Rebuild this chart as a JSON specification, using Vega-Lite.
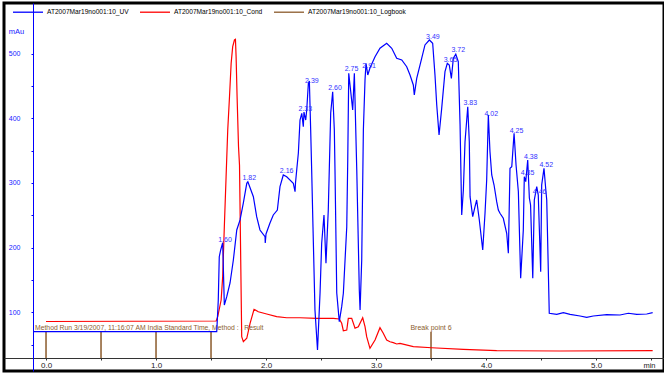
{
  "$schema": "https://vega.github.io/schema/vega-lite/v6.json",
  "width": 660,
  "height": 368,
  "autosize": {"type": "none"},
  "padding": {"left": 4, "top": 3, "right": 0, "bottom": 3},
  "background": "white",
  "view": {"stroke": "#000000", "strokeWidth": 3, "fill": "white"},
  "config": {
    "font": "Liberation Sans, Arial, sans-serif"
  },
  "datasets": {
    "uv": [
      {"t": -0.11, "v": 70}, {"t": 1.552, "v": 70}, {"t": 1.566, "v": 119}, {"t": 1.575, "v": 186}, {"t": 1.588, "v": 196.4},
      {"t": 1.606, "v": 207.7}, {"t": 1.621, "v": 111.3}, {"t": 1.643, "v": 124.1}, {"t": 1.673, "v": 145.3}, {"t": 1.703, "v": 180.9},
      {"t": 1.734, "v": 227.3}, {"t": 1.764, "v": 242.8}, {"t": 1.794, "v": 269.1}, {"t": 1.825, "v": 299.5}, {"t": 1.835, "v": 302},
      {"t": 1.885, "v": 278.8}, {"t": 1.915, "v": 247.9}, {"t": 1.945, "v": 227.3}, {"t": 1.991, "v": 216.9}, {"t": 1.993, "v": 207.2},
      {"t": 2.0, "v": 221.1}, {"t": 2.036, "v": 238.1}, {"t": 2.066, "v": 250.5}, {"t": 2.103, "v": 258.2}, {"t": 2.127, "v": 294.3},
      {"t": 2.157, "v": 312.4}, {"t": 2.188, "v": 309.7}, {"t": 2.248, "v": 299.5}, {"t": 2.264, "v": 286.5}, {"t": 2.268, "v": 300},
      {"t": 2.279, "v": 320.1}, {"t": 2.294, "v": 346.4}, {"t": 2.309, "v": 397.4}, {"t": 2.325, "v": 407.8}, {"t": 2.339, "v": 387.1},
      {"t": 2.345, "v": 409.8}, {"t": 2.361, "v": 397.4}, {"t": 2.37, "v": 412.9}, {"t": 2.385, "v": 454.2}, {"t": 2.394, "v": 457.8},
      {"t": 2.406, "v": 382.1}, {"t": 2.415, "v": 320.2}, {"t": 2.427, "v": 231.9}, {"t": 2.445, "v": 103.6}, {"t": 2.468, "v": 41.7},
      {"t": 2.491, "v": 129.4}, {"t": 2.506, "v": 206.7}, {"t": 2.527, "v": 250.5}, {"t": 2.545, "v": 175.8}, {"t": 2.566, "v": 258.2},
      {"t": 2.588, "v": 408.3}, {"t": 2.606, "v": 441.2}, {"t": 2.621, "v": 382.1}, {"t": 2.627, "v": 320.2}, {"t": 2.643, "v": 129.9},
      {"t": 2.666, "v": 85.5}, {"t": 2.688, "v": 108.7}, {"t": 2.703, "v": 129.4}, {"t": 2.734, "v": 232.4}, {"t": 2.743, "v": 335.6},
      {"t": 2.752, "v": 469.7}, {"t": 2.788, "v": 412.9}, {"t": 2.803, "v": 469.7}, {"t": 2.825, "v": 320.2}, {"t": 2.848, "v": 134.5},
      {"t": 2.855, "v": 103.6}, {"t": 2.87, "v": 180.9}, {"t": 2.885, "v": 382.1}, {"t": 2.9, "v": 459.5}, {"t": 2.909, "v": 485.2},
      {"t": 2.925, "v": 467.1}, {"t": 2.945, "v": 477.9}, {"t": 2.991, "v": 495.4}, {"t": 3.036, "v": 508.4}, {"t": 3.097, "v": 516.1},
      {"t": 3.143, "v": 508.4}, {"t": 3.188, "v": 492.9}, {"t": 3.234, "v": 490.3}, {"t": 3.279, "v": 479.9}, {"t": 3.309, "v": 467.1},
      {"t": 3.339, "v": 451.6}, {"t": 3.348, "v": 436.2}, {"t": 3.37, "v": 461.9}, {"t": 3.415, "v": 492.9}, {"t": 3.445, "v": 513.5},
      {"t": 3.485, "v": 521.2}, {"t": 3.515, "v": 516.1}, {"t": 3.536, "v": 467.1}, {"t": 3.552, "v": 420.7}, {"t": 3.573, "v": 374.3},
      {"t": 3.597, "v": 415.5}, {"t": 3.627, "v": 472.2}, {"t": 3.648, "v": 485.2}, {"t": 3.666, "v": 482.5}, {"t": 3.685, "v": 461.9},
      {"t": 3.703, "v": 492.9}, {"t": 3.725, "v": 499.1}, {"t": 3.748, "v": 487.6}, {"t": 3.764, "v": 390.5}, {"t": 3.779, "v": 250.5},
      {"t": 3.794, "v": 289.2}, {"t": 3.809, "v": 363.9}, {"t": 3.834, "v": 418}, {"t": 3.848, "v": 363.9}, {"t": 3.855, "v": 278.8},
      {"t": 3.879, "v": 247.9}, {"t": 3.9, "v": 263.3}, {"t": 3.915, "v": 273.7}, {"t": 3.939, "v": 242.8}, {"t": 3.97, "v": 196.4},
      {"t": 3.991, "v": 253.6}, {"t": 4.006, "v": 304.6}, {"t": 4.021, "v": 405.2}, {"t": 4.036, "v": 348.4}, {"t": 4.052, "v": 312.4},
      {"t": 4.073, "v": 296.9}, {"t": 4.097, "v": 271.1}, {"t": 4.112, "v": 258.2}, {"t": 4.127, "v": 253.1}, {"t": 4.157, "v": 245.4},
      {"t": 4.188, "v": 222.2}, {"t": 4.203, "v": 191.3}, {"t": 4.218, "v": 322.7}, {"t": 4.234, "v": 325.2}, {"t": 4.255, "v": 376.9},
      {"t": 4.273, "v": 327.8}, {"t": 4.294, "v": 286.5}, {"t": 4.315, "v": 152.6}, {"t": 4.339, "v": 227.3}, {"t": 4.348, "v": 309.7},
      {"t": 4.361, "v": 302}, {"t": 4.379, "v": 335.6}, {"t": 4.394, "v": 276.8}, {"t": 4.405, "v": 266}, {"t": 4.425, "v": 152.6},
      {"t": 4.439, "v": 273.7}, {"t": 4.461, "v": 294.3}, {"t": 4.475, "v": 281.4}, {"t": 4.497, "v": 162.8}, {"t": 4.506, "v": 296.9},
      {"t": 4.527, "v": 322.7}, {"t": 4.545, "v": 286.5}, {"t": 4.552, "v": 273.7}, {"t": 4.575, "v": 98.5}, {"t": 4.643, "v": 96.9},
      {"t": 4.703, "v": 99.4}, {"t": 4.764, "v": 96.9}, {"t": 4.855, "v": 94.3}, {"t": 4.915, "v": 92.3}, {"t": 4.975, "v": 94.3},
      {"t": 5.097, "v": 96.3}, {"t": 5.218, "v": 95.8}, {"t": 5.294, "v": 98.5}, {"t": 5.37, "v": 96.9}, {"t": 5.461, "v": 97.4},
      {"t": 5.515, "v": 99.4}
    ],
    "cond": [
      {"t": 0, "v": 85.8}, {"t": 1.547, "v": 86.5}, {"t": 1.561, "v": 93.2}, {"t": 1.592, "v": 119}, {"t": 1.606, "v": 155.1},
      {"t": 1.621, "v": 232.4}, {"t": 1.637, "v": 309.7}, {"t": 1.652, "v": 382}, {"t": 1.668, "v": 433.5}, {"t": 1.683, "v": 485.2},
      {"t": 1.697, "v": 510.8}, {"t": 1.713, "v": 521.2}, {"t": 1.722, "v": 522.3}, {"t": 1.728, "v": 495.4}, {"t": 1.737, "v": 433.5},
      {"t": 1.75, "v": 356.1}, {"t": 1.759, "v": 327.6}, {"t": 1.77, "v": 180.9}, {"t": 1.779, "v": 62.3}, {"t": 1.794, "v": 54.5},
      {"t": 1.825, "v": 59.8}, {"t": 1.855, "v": 83}, {"t": 1.891, "v": 104.6}, {"t": 1.93, "v": 100.9}, {"t": 2.006, "v": 97.4},
      {"t": 2.097, "v": 93.2}, {"t": 2.188, "v": 91.6}, {"t": 2.309, "v": 91.6}, {"t": 2.461, "v": 90.7}, {"t": 2.612, "v": 90.7},
      {"t": 2.666, "v": 89.6}, {"t": 2.688, "v": 83}, {"t": 2.703, "v": 71.5}, {"t": 2.734, "v": 72.6}, {"t": 2.748, "v": 90.7},
      {"t": 2.779, "v": 90.7}, {"t": 2.809, "v": 75.3}, {"t": 2.839, "v": 77.7}, {"t": 2.879, "v": 91.6}, {"t": 2.9, "v": 77.7},
      {"t": 2.915, "v": 62.3}, {"t": 2.945, "v": 44.3}, {"t": 2.991, "v": 57.2}, {"t": 3.036, "v": 76.2}, {"t": 3.066, "v": 67.5},
      {"t": 3.097, "v": 57.2}, {"t": 3.127, "v": 54.5}, {"t": 3.157, "v": 53}, {"t": 3.188, "v": 51}, {"t": 3.218, "v": 52},
      {"t": 3.339, "v": 46.8}, {"t": 3.506, "v": 45.2}, {"t": 3.794, "v": 42.8}, {"t": 4.097, "v": 40.6}, {"t": 4.673, "v": 40.1},
      {"t": 5.515, "v": 40.6}
    ],
    "logbook": [
      {"t": 0.0, "label": "Method Run 3/19/2007, 11:16:07 AM India Standard Time, Method : , Result"},
      {"t": 0.5, "label": ""},
      {"t": 1.0, "label": ""},
      {"t": 1.5, "label": ""},
      {"t": 3.5, "label": "Break point 6"}
    ],
    "peaks": [
      {"t": 1.60, "v": 208, "label": "1.60"}, {"t": 1.82, "v": 305.4, "label": "1.82"}, {"t": 2.16, "v": 314.7, "label": "2.16"},
      {"t": 2.33, "v": 410.6, "label": "2.33"}, {"t": 2.39, "v": 453.9, "label": "2.39"}, {"t": 2.60, "v": 443.1, "label": "2.60"},
      {"t": 2.75, "v": 472.5, "label": "2.75"}, {"t": 2.91, "v": 477.1, "label": "2.91"}, {"t": 3.49, "v": 522, "label": "3.49"},
      {"t": 3.65, "v": 487.9, "label": "3.65"}, {"t": 3.72, "v": 501.9, "label": "3.72"}, {"t": 3.83, "v": 419.9, "label": "3.83"},
      {"t": 4.02, "v": 402.9, "label": "4.02"}, {"t": 4.25, "v": 376.6, "label": "4.25"}, {"t": 4.35, "v": 311.6, "label": "4.35"},
      {"t": 4.38, "v": 336.4, "label": "4.38"}, {"t": 4.46, "v": 282.2, "label": "4.46"}, {"t": 4.52, "v": 324, "label": "4.52"}
    ]
  },
  "encoding": {
    "x": {
      "field": "t", "type": "quantitative",
      "scale": {"domain": [-0.382, 5.618], "nice": false, "zero": false},
      "axis": {
        "orient": "bottom", "offset": -13,
        "values": [0, 0.5, 1, 1.5, 2, 2.5, 3, 3.5, 4, 4.5, 5, 5.5],
        "labelExpr": "datum.value % 1 === 0 ? format(datum.value, '.1f') : ''",
        "title": "min", "titleX": 645, "titleY": 7, "titleAlign": "center", "titleBaseline": "middle",
        "titleFontWeight": "normal", "titleFontSize": 7.5, "titleColor": "#222222",
        "domainColor": "#333333", "tickColor": "#333333", "tickSize": 2,
        "labelColor": "#222222", "labelFontSize": 8, "labelPadding": 1, "labelFlush": false, "labelOverlap": false,
        "grid": false,
        "encoding": {"domain": {"update": {"x": {"scale": "x", "value": -0.118}}}}
      }
    }
  },
  "layer": [
    {
      "data": {"name": "logbook"},
      "mark": {"type": "rule", "strokeWidth": 1.5},
      "encoding": {
        "y": {
          "datum": 70, "type": "quantitative",
          "scale": {"domain": [9.2, 578.4], "nice": false, "zero": false}
        },
        "y2": {"datum": 29.3},
        "color": {
          "datum": "AT2007Mar19no001:10_Logbook",
          "scale": {
            "domain": ["AT2007Mar19no001:10_UV", "AT2007Mar19no001:10_Cond", "AT2007Mar19no001:10_Logbook"],
            "range": ["#0000ff", "#ff0000", "#8b5a2b"]
          },
          "legend": {
            "orient": "none", "legendX": 8, "legendY": -7, "direction": "horizontal", "title": null,
            "symbolType": "stroke", "symbolSize": 900, "symbolStrokeWidth": 1.3,
            "labelFontSize": 6.6, "labelOffset": 3, "columnPadding": 8, "padding": 0,
            "encoding": {
              "labels": {"update": {"fill": {"scale": "color", "field": "value"}}},
              "symbols": {"update": {"strokeDash": {"signal": "indexof(datum.label, 'Logbook') >= 0 ? [1.5, 1.5] : [1, 0]"}}}
            }
          }
        }
      }
    },
    {
      "data": {"name": "cond"},
      "mark": {"type": "line", "strokeWidth": 1.2},
      "encoding": {
        "y": {"field": "v", "type": "quantitative"},
        "color": {"datum": "AT2007Mar19no001:10_Cond"}
      }
    },
    {
      "data": {"name": "logbook"},
      "transform": [{"filter": "datum.t === 0"}],
      "mark": {"type": "text", "align": "left", "baseline": "middle", "dx": -11, "fontSize": 6.8, "color": "#8b6030"},
      "encoding": {
        "y": {"datum": 75.3, "type": "quantitative"},
        "text": {"field": "label"}
      }
    },
    {
      "data": {"name": "logbook"},
      "transform": [{"filter": "datum.t === 3.5"}],
      "mark": {"type": "text", "align": "center", "baseline": "middle", "dx": 0, "fontSize": 7, "color": "#8b6030"},
      "encoding": {
        "y": {"datum": 75.3, "type": "quantitative"},
        "text": {"field": "label"}
      }
    },
    {
      "data": {"name": "uv"},
      "mark": {"type": "line", "strokeWidth": 1.2},
      "encoding": {
        "y": {
          "field": "v", "type": "quantitative",
          "scale": {"domain": [9.2, 578.4], "nice": false, "zero": false},
          "axis": {
            "orient": "left", "offset": -29,
            "values": [50, 100, 150, 200, 250, 300, 350, 400, 450, 500],
            "labelExpr": "datum.value % 100 === 0 ? format(datum.value, 'd') : ''",
            "title": "mAu", "titleAngle": 0, "titleX": -17, "titleY": 28.7, "titleAlign": "center", "titleBaseline": "middle",
            "titleFontWeight": "normal", "titleFontSize": 7.5, "titleColor": "#2020ff",
            "domainColor": "#0000ff", "tickColor": "#0000ff", "tickSize": 2,
            "labelColor": "#2020ff", "labelFontSize": 7, "labelPadding": 11, "labelOverlap": false,
            "grid": false,
            "encoding": {"domain": {"update": {"y": {"scale": "y", "value": 546}, "y2": {"scale": "y", "value": 29.3}}}}
          }
        },
        "color": {"datum": "AT2007Mar19no001:10_UV"}
      }
    },
    {
      "data": {"name": "peaks"},
      "mark": {"type": "text", "align": "center", "baseline": "alphabetic", "dx": 3, "fontSize": 7, "color": "#3333ff"},
      "encoding": {
        "y": {"field": "v", "type": "quantitative"},
        "text": {"field": "label"}
      }
    }
  ]
}
